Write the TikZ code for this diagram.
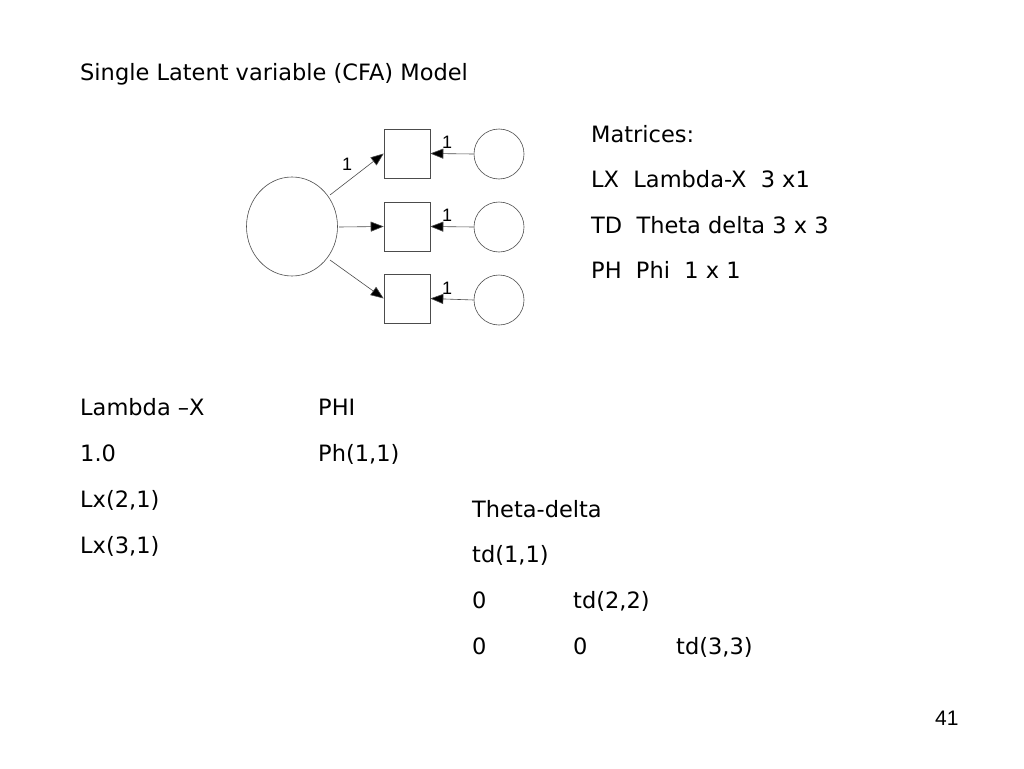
\documentclass[tikz,border=0pt]{standalone}
\usepackage{fontspec}
\setmainfont{DejaVu Sans}
\newfontfamily\arialfont{Liberation Sans}
\usetikzlibrary{arrows.meta,shapes.geometric}
\begin{document}
\begin{tikzpicture}[x=1pt,y=-1pt,
  txt/.style={anchor=base west,inner sep=0pt,font=\fontsize{22.5}{26}\selectfont},
  lbl/.style={anchor=base west,inner sep=0pt,font=\arialfont\fontsize{18}{21}\selectfont},
  obs/.style={draw=black!70,line width=0.6pt,minimum width=46pt,minimum height=49pt,inner sep=0pt},
  err/.style={draw=black!70,line width=0.6pt,circle,minimum size=50pt,inner sep=0pt},
  lat/.style={draw=black!70,line width=0.6pt,ellipse,minimum width=91pt,minimum height=99pt,inner sep=0pt},
  arr/.style={draw=black!70,line width=0.6pt,-{Triangle[length=13pt,width=10pt,fill=black]}}]
\useasboundingbox (0,0) rectangle (1024,768);
\fill[white] (0,0) rectangle (1024,768);
% diagram
\node[lat] (F) at (292,226.5) {};
\node[obs] (x1) at (407,153.5) {};
\node[obs] (x2) at (407,226.5) {};
\node[obs] (x3) at (407,298.5) {};
\node[err] (d1) at (499,154) {};
\node[err] (d2) at (499,227) {};
\node[err] (d3) at (499,300) {};
\coordinate (s1) at (330,195);
\coordinate (s2) at (339,227);
\coordinate (s3) at (330,260);
\draw[arr] (s1) -- (x1.west);
\draw[arr] (s2) -- (x2.west);
\draw[arr] (s3) -- (x3.west);
\draw[arr] (d1.west) -- (x1.east);
\draw[arr] (d2.west) -- (x2.east);
\draw[arr] (d3.west) -- (x3.east);
\node[lbl] (l0) at (342,170) {1};
\node[lbl] (l1) at (442,148) {1};
\node[lbl] (l2) at (442,221) {1};
\node[lbl] (l3) at (442,294) {1};
% texts
\node[txt] (title) at (80,80) {Single Latent variable (CFA) Model};
\node[txt] (m0) at (591,142) {Matrices:};
\node[txt] (m1) at (591,187) {LX\ \ Lambda-X\ \ 3 x1};
\node[txt] (m2) at (591,233) {TD\ \ Theta delta 3 x 3};
\node[txt] (m3) at (591,278) {PH\ \ Phi\ \ 1 x 1};
\node[txt] (a0) at (80,415) {Lambda –X};
\node[txt] (a1) at (80,461) {1.0};
\node[txt] (a2) at (80,507) {Lx(2,1)};
\node[txt] (a3) at (80,553) {Lx(3,1)};
\node[txt] (p0) at (318,415) {PHI};
\node[txt] (p1) at (318,461) {Ph(1,1)};
\node[txt] (t0) at (472,517) {Theta-delta};
\node[txt] (t1) at (472,562) {td(1,1)};
\node[txt] (t2) at (472,608) {0};
\node[txt] (t3) at (573,608) {td(2,2)};
\node[txt] (t4) at (472,654) {0};
\node[txt] (t5) at (573,654) {0};
\node[txt] (t6) at (676,654) {td(3,3)};
\node[anchor=base west,inner sep=0pt,font=\arialfont\fontsize{21}{24}\selectfont] (pg) at (935,725) {41};
\end{tikzpicture}
\end{document}
